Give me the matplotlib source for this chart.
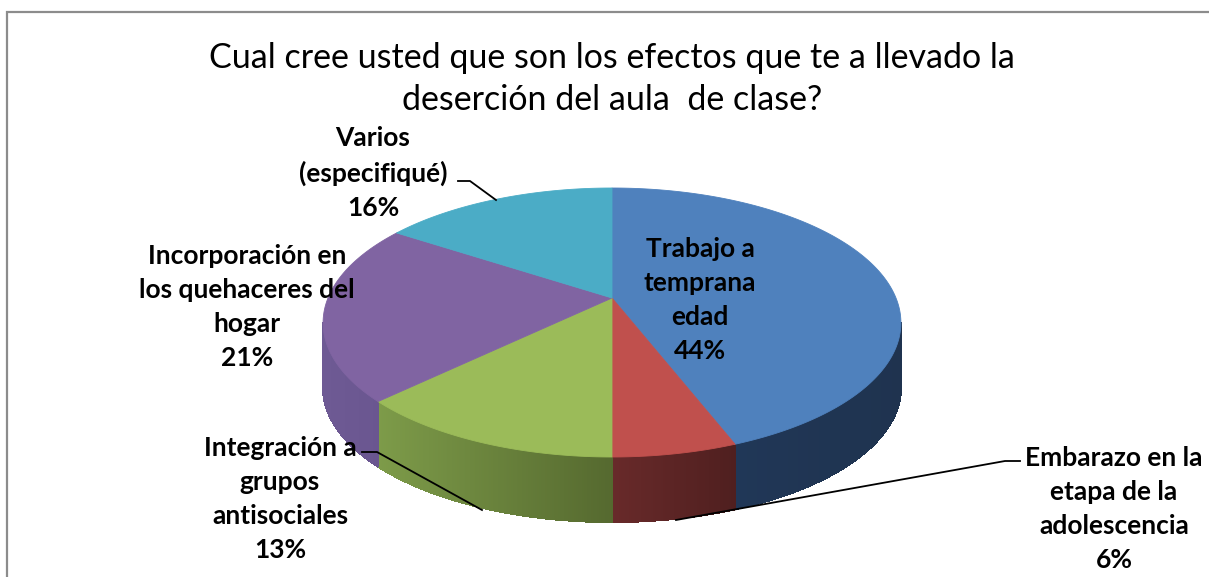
import numpy as np
import matplotlib
matplotlib.use("Agg")
import matplotlib.pyplot as plt
from matplotlib.patches import Polygon
from matplotlib.colors import to_rgb

# ---------------- data ----------------
categories = ["Trabajo a\ntemprana\nedad",
              "Embarazo en la\netapa de la\nadolescencia",
              "Integración a\ngrupos\nantisociales",
              "Incorporación en\nlos quehaceres del\nhogar",
              "Varios\n(especifiqué)"]
values = [44, 6, 13, 21, 16]
title = "Cual cree usted que son los efectos que te a llevado la\ndeserción del aula  de clase?"

top_colors = ['#4F81BD', '#C0504D', '#9BBB59', '#8064A2', '#4BACC6']
wall_colors = [('#203757', '#1F334F'), ('#682A2A', '#4F1F1F'),
               ('#7D9B49', '#55692F'), ('#6E5A94', '#6A5690'),
               ('#3A8CA2', '#3A8CA2')]

# label placement (pixel coords of block centres)
label_pos = [(700, 300), (1114, 509), (280, 499), (247, 307), (373, 173)]
# leader lines (pixel coords)
leaders = {1: [(1020, 461), (1005, 461), (676, 520)],
           2: [(362, 452), (377, 452), (482, 510)],
           4: [(458, 181), (470, 181), (496, 200)]}

# ---------------- geometry of the 3D pie (pixel space) ----------------
W, H = 1209, 577
cx, cy = 612, 298
R, k = 284.0, 0.19          # horizontal radius and perspective factor
b, c = 134.5, 24.5          # vertical mapping
depth = 65.0

def proj(theta_deg, r=1.0, drop=0.0):
    t = np.radians(theta_deg)
    u = r * np.sin(t)
    v = -r * np.cos(t)
    x = cx + R * u * (1 + k * v)
    y = cy + b * v + c * v ** 2 + drop
    return x, y

fig = plt.figure(figsize=(W / 100, H / 100), dpi=100)
ax = fig.add_axes([0, 0, 1, 1])
ax.set_xlim(0, W)
ax.set_ylim(H, 0)
ax.axis('off')

fracs = np.array(values, dtype=float) / np.sum(values)
bounds = np.concatenate([[0], np.cumsum(fracs) * 360])

# silhouette angles
grid = np.linspace(0, 360, 3601)
gx, _ = proj(grid)
th_right = grid[np.argmax(gx)]
th_left = grid[np.argmin(gx)]

# walls
for i in range(len(values)):
    a0, a1 = bounds[i], bounds[i + 1]
    s0, s1 = max(a0, th_right), min(a1, th_left)
    if s1 <= s0:
        continue
    n = max(int((s1 - s0) * 3), 2)
    ths = np.linspace(s0, s1, n + 1)
    cL, cR = np.array(to_rgb(wall_colors[i][0])), np.array(to_rgb(wall_colors[i][1]))
    xs_all, _ = proj(ths)
    xmin, xmax = xs_all.min(), xs_all.max()
    for j in range(n):
        t0, t1 = ths[j], ths[j + 1]
        x0, y0 = proj(t0)
        x1, y1 = proj(t1)
        xm = 0.5 * (x0 + x1)
        f = (xmax - xm) / (xmax - xmin) if xmax > xmin else 0.5
        col = cR + (cL - cR) * f
        poly = Polygon([(x0, y0), (x1, y1), (x1, y1 + depth), (x0, y0 + depth)],
                       closed=True, facecolor=col, edgecolor=col, lw=0.8,
                       antialiased=False)
        ax.add_patch(poly)

# top faces
for i in range(len(values)):
    ths = np.linspace(bounds[i], bounds[i + 1], 200)
    xs, ys = proj(ths)
    pts = [(cx, cy)] + list(zip(xs, ys))
    ax.add_patch(Polygon(pts, closed=True, facecolor=top_colors[i],
                         edgecolor=top_colors[i], lw=0.6))

fam = ['Lato', 'DejaVu Sans']
for i, (lab, (lx, ly)) in enumerate(zip(categories, label_pos)):
    txt = f"{lab}\n{values[i]}%"
    ax.text(lx, ly, txt, ha='center', va='center', fontsize=19,
            fontweight='bold', family=fam, linespacing=1.5, color='black')

for i, pts in leaders.items():
    xs, ys = zip(*pts)
    ax.plot(xs, ys, color='black', lw=1.3)

ax.text(612, 79, title, ha='center', va='center', fontsize=24.5, family=fam,
        linespacing=1.4, color='black')

# chart border
ax.plot([7, 7, W], [H, 12, 12], color='#8C8C8C', lw=1.6, solid_joinstyle='miter')

fig.savefig('out.png', dpi=100)
